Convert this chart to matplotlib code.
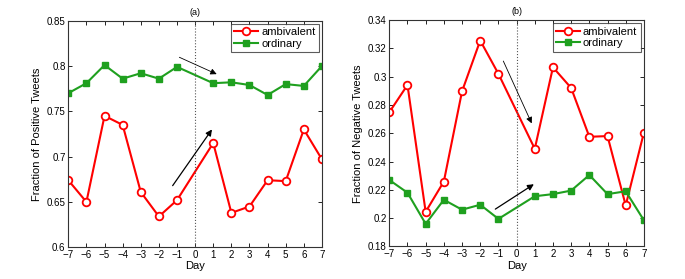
import numpy as np
import matplotlib
matplotlib.use('Agg')
import matplotlib.pyplot as plt

days = [-7, -6, -5, -4, -3, -2, -1, 1, 2, 3, 4, 5, 6, 7]

# (a) fraction of positive tweets
pos_ambivalent = [0.674, 0.650, 0.745, 0.735, 0.661, 0.634, 0.652,
                  0.715, 0.638, 0.645, 0.674, 0.673, 0.730, 0.697]
pos_ordinary = [0.770, 0.781, 0.801, 0.786, 0.792, 0.786, 0.799,
                0.781, 0.782, 0.779, 0.768, 0.780, 0.778, 0.800]

# (b) fraction of negative tweets
neg_ambivalent = [0.2748, 0.2941, 0.2045, 0.2259, 0.2896, 0.3255, 0.302,
                  0.249, 0.3066, 0.292, 0.2575, 0.258, 0.209, 0.2605]
neg_ordinary = [0.227, 0.218, 0.196, 0.213, 0.206, 0.2095, 0.1995,
                0.2155, 0.217, 0.2195, 0.2305, 0.217, 0.219, 0.1985]

# arrows: (start, end) in data coords
pos_arrows = [((-0.87, 0.8096), (1.19, 0.791), 0.6),
              ((-1.24, 0.668), (0.93, 0.730), 0.9)]
neg_arrows = [((-0.73, 0.311), (0.83, 0.267), 0.6),
              ((-1.17, 0.2064), (0.95, 0.224), 0.9)]

red = '#ff0000'
green = '#1fa01f'

plt.rcParams['font.family'] = ['Liberation Sans', 'DejaVu Sans']

fig = plt.figure(figsize=(6.85, 2.79), dpi=100)
ax1 = fig.add_axes([0.0997, 0.1136, 0.3703, 0.8124])
ax2 = fig.add_axes([0.5683, 0.1165, 0.3717, 0.8118])


def draw(ax, amb, ordi, ylim, yticks, ylabel, title, arrows):
    ax.plot(days, amb, color=red, lw=1.5, marker='o', ms=5.5, mfc='white',
            mec=red, mew=1.3, label='ambivalent')
    ax.plot(days, ordi, color=green, lw=1.5, marker='s', ms=5, mfc=green,
            mec=green, label='ordinary')
    ax.axvline(0, color='#555555', lw=0.8, ls=':')
    for (x0, y0), (x1, y1), lw in arrows:
        ax.annotate('', xy=(x1, y1), xytext=(x0, y0),
                    arrowprops=dict(arrowstyle='-|>', color='black', lw=lw,
                                    mutation_scale=9, shrinkA=0, shrinkB=0))
    ax.set_xlim(-7, 7)
    ax.set_ylim(*ylim)
    ax.set_xticks(range(-7, 8))
    ax.set_xticklabels([str(d).replace('-', '\u2212') for d in range(-7, 8)])
    ax.set_yticks(yticks)
    ax.set_yticklabels([('%g' % t) for t in yticks])
    ax.tick_params(direction='in', top=True, right=True, labelsize=7,
                   length=3, width=0.6, pad=2)
    for s in ax.spines.values():
        s.set_linewidth(0.8)
        s.set_color('#333333')
    ax.set_xlabel('Day', fontsize=8, labelpad=1)
    ax.set_ylabel(ylabel, fontsize=8, labelpad=3)
    ax.set_title(title, fontsize=6.5, pad=4)
    leg = ax.legend(loc='upper right', fontsize=8, frameon=True, fancybox=False,
                    handlelength=2.1, borderaxespad=0.3, borderpad=0.3,
                    labelspacing=0.15, handletextpad=0.3)
    leg.get_frame().set_edgecolor('#333333')
    leg.get_frame().set_linewidth(0.8)


draw(ax1, pos_ambivalent, pos_ordinary, (0.6, 0.85),
     [0.6, 0.65, 0.7, 0.75, 0.8, 0.85], 'Fraction of Positive Tweets', '(a)',
     pos_arrows)
draw(ax2, neg_ambivalent, neg_ordinary, (0.18, 0.34),
     [0.18, 0.2, 0.22, 0.24, 0.26, 0.28, 0.3, 0.32, 0.34],
     'Fraction of Negative Tweets', '(b)', neg_arrows)

fig.savefig('out.png', dpi=100)
